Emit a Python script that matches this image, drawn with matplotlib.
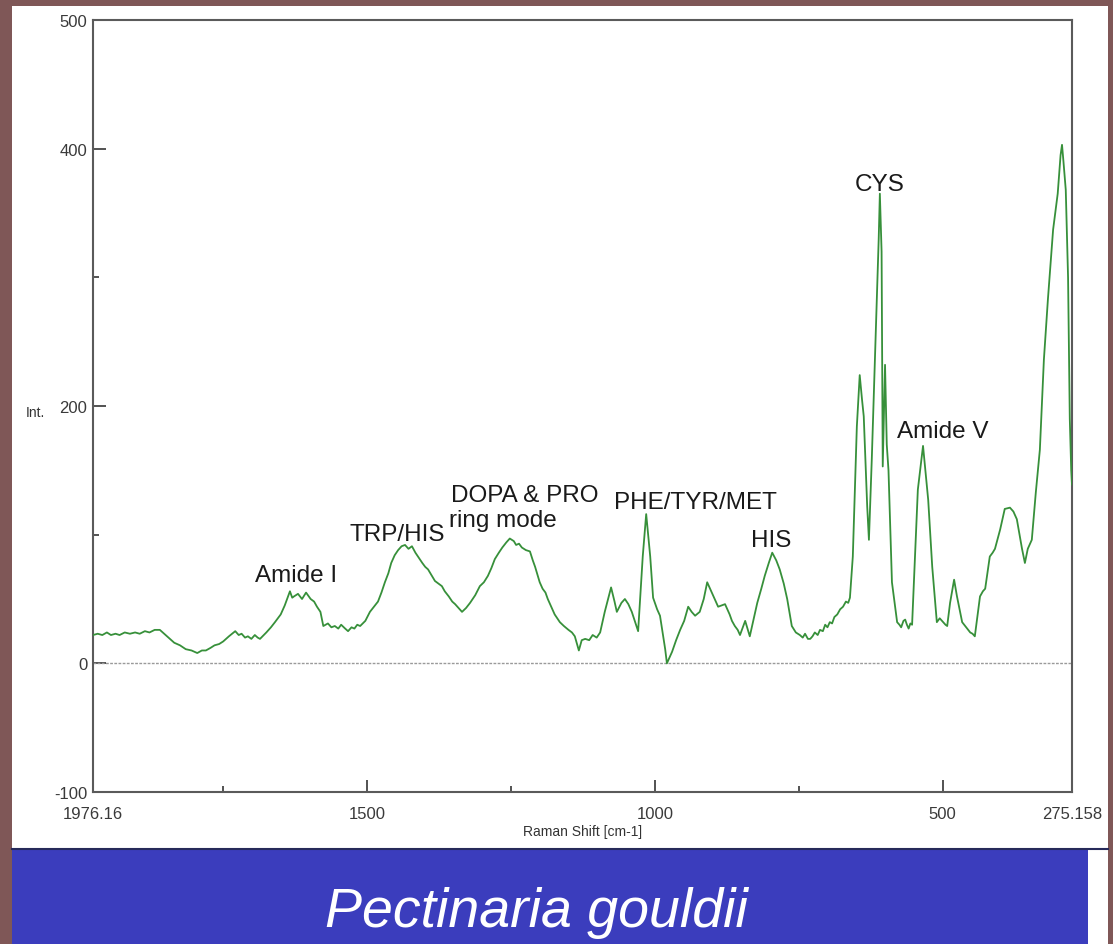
import matplotlib
matplotlib.use("Agg")
import matplotlib.pyplot as plt
from matplotlib.patches import Rectangle
from matplotlib.ticker import FixedLocator

plt.rcParams['font.family'] = ['Liberation Sans', 'DejaVu Sans']

# Raman spectrum (shift in cm-1, intensity in counts)
shift = [
    1976, 1968, 1960, 1952, 1945, 1937, 1930, 1921, 1912, 1903, 1895, 1886,
    1878, 1869, 1860, 1850, 1835, 1825, 1815, 1805, 1795, 1787, 1780, 1772,
    1765, 1757, 1750, 1740, 1729, 1723, 1718, 1712, 1707, 1701, 1695, 1690,
    1686, 1675, 1667, 1660, 1650, 1643, 1634, 1630, 1627, 1620, 1613, 1606,
    1598, 1592, 1587, 1581, 1576, 1568, 1562, 1556, 1550, 1545, 1538, 1533,
    1527, 1522, 1517, 1512, 1503, 1495, 1488, 1481, 1475, 1469, 1463, 1458,
    1452, 1446, 1440, 1434, 1428, 1422, 1416, 1410, 1404, 1399, 1394, 1390,
    1386, 1382, 1376, 1370, 1365, 1358, 1352, 1347, 1343, 1339, 1335, 1328,
    1321, 1312, 1304, 1297, 1290, 1284, 1278, 1271, 1265, 1258, 1252, 1245,
    1241, 1236, 1231, 1224, 1217, 1212, 1208, 1204, 1200, 1195, 1190, 1186,
    1182, 1174, 1165, 1158, 1150, 1144, 1139, 1132, 1127, 1121, 1114, 1108,
    1101, 1095, 1087, 1076, 1070, 1066, 1058, 1052, 1046, 1040, 1029, 1021,
    1015, 1008, 1003, 996, 991, 982, 979, 970, 963, 956, 949, 942,
    936, 930, 922, 915, 909, 901, 895, 890, 884, 878, 870, 866,
    861, 856, 852, 843, 835, 828, 822, 815, 809, 802, 796, 789,
    783, 776, 770, 762, 755, 748, 743, 739, 734, 730, 726, 722,
    717, 713, 708, 704, 700, 696, 692, 688, 683, 678, 673, 668,
    664, 661, 656, 649, 644, 640, 637, 631, 628, 623, 616, 611,
    609, 606, 604, 600, 597, 594, 588, 579, 575, 572, 568, 565,
    562, 559, 556, 553, 548, 543, 534, 525, 518, 510, 505, 499,
    495, 492, 487, 480, 475, 466, 459, 452, 448, 444, 435, 430,
    426, 418, 413, 409, 400, 392, 383, 377, 371, 362, 357, 352,
    345, 338, 331, 324, 317, 308, 300, 295, 292.5, 290, 286, 282,
    279, 276.5, 275.2,
]
intensity = [
    22, 23, 22, 24, 22, 23, 22, 24, 23, 24, 23, 25,
    24, 26, 26, 22, 16, 14, 11, 10, 8, 10, 10, 12,
    14, 15, 17, 21, 25, 22, 23, 20, 21, 19, 22, 20,
    19, 24, 28, 32, 38, 45, 56, 51, 52, 54, 50, 55,
    50, 48, 44, 40, 29, 31, 28, 29, 27, 30, 27, 25,
    28, 27, 30, 29, 33, 40, 44, 48, 55, 63, 70, 78,
    84, 88, 91, 92, 89, 91, 86, 82, 78, 75, 73, 70,
    67, 64, 62, 60, 56, 52, 48, 46, 44, 42, 40, 43,
    47, 53, 60, 63, 68, 74, 81, 86, 90, 94, 97, 95,
    92, 93, 90, 88, 87, 80, 75, 69, 63, 58, 55, 50,
    46, 38, 32, 29, 26, 24, 21, 10, 18, 19, 18, 22,
    20, 24, 40, 59, 48, 40, 47, 50, 46, 40, 25, 83,
    116, 83, 51, 42, 37, 11, 0, 9, 18, 26, 33, 44,
    40, 37, 40, 50, 63, 55, 49, 44, 45, 46, 38, 33,
    29, 26, 22, 33, 21, 35, 47, 58, 68, 78, 86, 80,
    73, 62, 50, 29, 24, 22, 20, 23, 19, 19, 21, 24,
    22, 26, 25, 30, 28, 32, 31, 36, 38, 42, 44, 48,
    47, 51, 83, 184, 224, 205, 192, 122, 96, 159, 260, 330,
    365, 320, 153, 232, 170, 150, 63, 32, 30, 28, 33, 34,
    30, 27, 31, 30, 83, 135, 169, 127, 75, 32, 35, 32,
    30, 29, 47, 65, 52, 32, 28, 24, 23, 21, 52, 56,
    58, 83, 86, 89, 104, 120, 121, 118, 112, 89, 78, 89,
    96, 133, 166, 236, 283, 337, 365, 395, 403, 390, 368, 300,
    190, 150, 139,
]

x_min, x_max = 1976.16, 275.158
y_min, y_max = -100, 500
x_major = [1976.16, 1500, 1000, 500, 275.158]
x_major_labels = ['1976.16', '1500', '1000', '500', '275.158']
x_minor = [1750, 1250, 750]
y_major = [-100, 0, 200, 400, 500]
y_major_labels = ['-100', '0', '200', '400', '500']
y_minor = [100, 300]

# Band assignments: (text, shift, baseline intensity, alignment)
band_labels = [
    ('Amide I', 1623, 64, 'center'),
    ('TRP/HIS', 1448, 96, 'center'),
    ('DOPA & PRO', 1354, 126, 'left'),
    ('ring mode', 1357, 107, 'left'),
    ('PHE/TYR/MET', 930, 121, 'center'),
    ('HIS', 798, 91, 'center'),
    ('CYS', 610, 368, 'center'),
    ('Amide V', 499, 176, 'center'),
]

W, H = 1113, 945
fig = plt.figure(figsize=(W / 100, H / 100), dpi=100)
fig.patch.set_facecolor('#7f5757')

# white slide panel, caption band
fig.add_artist(Rectangle((12 / W, 95 / H), 1096 / W, 843 / H,
                         transform=fig.transFigure, facecolor='white',
                         edgecolor='none', zorder=0))
fig.add_artist(Rectangle((1088 / W, 0), 20 / W, 95 / H,
                         transform=fig.transFigure, facecolor='white',
                         edgecolor='none', zorder=0))
fig.add_artist(Rectangle((12 / W, 0), 1076 / W, 95 / H,
                         transform=fig.transFigure, facecolor='#3b3dbd',
                         edgecolor='none', zorder=1))
fig.add_artist(plt.Line2D([12 / W, 1108 / W], [95 / H, 95 / H],
                          transform=fig.transFigure, color='#262a5a', lw=1.5,
                          zorder=2))
fig.text(536 / W, 18 / H, 'Pectinaria gouldii', color='white',
         fontsize=40, fontstyle='italic', ha='center', va='baseline')

ax = fig.add_axes([93 / W, 152 / H, 979 / W, 772 / H])
ax.set_facecolor('white')
ax.plot(shift, intensity, color='#37903a', lw=1.3, zorder=3)
ax.axhline(0, color='#9a9a9a', lw=1.0, ls=(0, (2, 1)), zorder=2)

ax.set_xlim(x_min, x_max)
ax.set_ylim(y_min, y_max)
ax.xaxis.set_major_locator(FixedLocator(x_major))
ax.set_xticklabels(x_major_labels)
ax.xaxis.set_minor_locator(FixedLocator(x_minor))
ax.yaxis.set_major_locator(FixedLocator(y_major))
ax.set_yticklabels(y_major_labels)
ax.yaxis.set_minor_locator(FixedLocator(y_minor))
ax.tick_params(which='both', direction='in', colors='#444444',
               labelcolor='#3a3a3a', labelsize=12, width=1.3)
ax.tick_params(axis='x', which='major', length=9, pad=10)
ax.tick_params(axis='y', which='major', length=9, pad=4)
ax.tick_params(which='minor', length=4)
for s in ax.spines.values():
    s.set_color('#5a5a5a')
    s.set_linewidth(1.5)

ax.set_xlabel('Raman Shift [cm-1]', fontsize=10, color='#333333', labelpad=2)
fig.text(35 / W, (H - 413) / H, 'Int.', fontsize=10, color='#333333',
         ha='center', va='center')

for text, xs, yv, align in band_labels:
    ax.text(xs, yv, text, fontsize=17.5, color='#1a1a1a', ha=align,
            va='baseline', zorder=4)

fig.savefig('out.png', dpi=100, facecolor=fig.get_facecolor())
